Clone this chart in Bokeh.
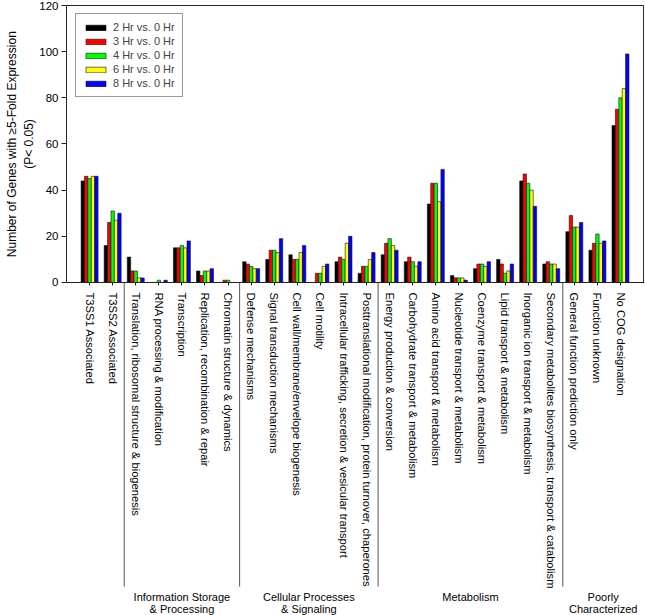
import numpy as np
from bokeh.plotting import figure
from bokeh.models import Range1d, FixedTicker, Legend, LegendItem, Title
from bokeh.embed import file_html
from bokeh.resources import INLINE
from bokeh.core.properties import value

categories = [
    "T3SS1 Associated",
    "T3SS2 Associated",
    "Translation, ribosomal structure & biogenesis",
    "RNA processing & modification",
    "Transcription",
    "Replication, recombination & repair",
    "Chromatin structure & dynamics",
    "Defense mechanisms",
    "Signal transduction mechanisms",
    "Cell wall/membrane/envelope biogenesis",
    "Cell motility",
    "Intracellular trafficking, secretion & vesicular transport",
    "Posttranslational modification, protein turnover, chaperones",
    "Energy production & conversion",
    "Carbohydrate transport & metabolism",
    "Amino acid transport & metabolism",
    "Nucleotide transport & metabolism",
    "Coenzyme transport & metabolism",
    "Lipid transport & metabolism",
    "Inorganic ion transport & metabolism",
    "Secondary metabolites biosynthesis, transport & catabolism",
    "General function prediction only",
    "Function unknown",
    "No COG designation",
]

series_labels = ["2 Hr vs. 0 Hr", "3 Hr vs. 0 Hr", "4 Hr vs. 0 Hr", "6 Hr vs. 0 Hr", "8 Hr vs. 0 Hr"]
hr2 = [44, 16, 11, 0, 15, 5, 0, 9, 10, 12, 0, 9, 4, 12, 9, 34, 3, 6, 10, 44, 8, 22, 14, 68]
hr3 = [46, 26, 5, 0, 15, 3, 1, 8, 14, 10, 4, 11, 7, 17, 11, 43, 2, 8, 8, 47, 9, 29, 17, 75]
hr4 = [45, 31, 5, 1, 16, 5, 1, 7, 14, 10, 4, 10, 7, 19, 9, 43, 2, 8, 4, 43, 8, 24, 21, 80]
hr6 = [46, 27, 2, 0, 15, 5, 0, 6, 13, 13, 7, 17, 10, 16, 7, 35, 2, 7, 5, 40, 8, 24, 17, 84]
hr8 = [46, 30, 2, 1, 18, 6, 0, 6, 19, 16, 8, 20, 13, 14, 9, 49, 1, 9, 8, 33, 6, 26, 18, 99]

group_names = ["", "Information Storage\n& Processing", "Cellular Processes\n& Signaling",
               "Metabolism", "Poorly\nCharacterized"]
group_sizes = [2, 5, 6, 8, 3]
y_ticks = [0, 20, 40, 60, 80, 100, 120]
y_title_1 = "Number of Genes with \u22655-Fold Expression"
y_title_2 = "(P< 0.05)"

colors = ["#000000", "#FF0000", "#00FF00", "#FFFF00", "#0000FF"]
FONT = "Liberation Sans"

# approximate Arial / Liberation Sans advance widths (em) to centre rotated titles
_W = {" ": .278, "(": .333, ")": .333, "<": .584, ".": .278, "-": .333, "\u2265": .584,
      "N": .722, "G": .778, "F": .611, "E": .667, "P": .667,
      "a": .556, "b": .556, "d": .556, "e": .556, "f": .278, "h": .556, "i": .222,
      "l": .222, "m": .833, "n": .556, "o": .556, "p": .556, "r": .333, "s": .5,
      "t": .278, "u": .556, "w": .722, "x": .5}


def text_len(s, size):
    return sum(_W.get(c, .556) for c in s) * size


n = len(categories)
xs = np.arange(1, n + 1)
x_end = n + 1

W, H = 645, 615
p = figure(width=W, height=H,
           x_range=Range1d(0, x_end + 0.04), y_range=Range1d(-144.26, 120.43),
           output_backend="svg", toolbar_location=None,
           min_border_left=66, min_border_right=1, min_border_top=4, min_border_bottom=0)
p.outline_line_color = None
p.xgrid.visible = False
p.ygrid.visible = False
p.background_fill_color = "white"
p.border_fill_color = "white"

bw = 0.147
series = [hr2, hr3, hr4, hr6, hr8]
items = []
for k, (vals, col, lab) in enumerate(zip(series, colors, series_labels)):
    r = p.vbar(x=xs + (k - 2) * bw, top=vals, bottom=0, width=bw,
               fill_color=col, line_color="#111111", line_width=0.6)
    items.append(LegendItem(label=lab, renderers=[r]))

# frame top and right lines (data area 0..120)
p.segment(x0=[0, x_end], y0=[y_ticks[-1], 0], x1=[x_end, x_end], y1=[y_ticks[-1], y_ticks[-1]],
          line_color="#222222", line_width=1)

# group separators and labels
bounds = np.cumsum(group_sizes) + 0.5
seps = bounds[:-1]
sep_bottom = -131.7
p.segment(x0=seps, y0=[0] * len(seps), x1=seps, y1=[sep_bottom] * len(seps),
          line_color="#555555", line_width=1)

starts = np.concatenate([[0.5], bounds[:-1]])
ends = np.concatenate([bounds[:-1], [x_end]])
lx, ly, lt = [], [], []
for name, s, e in zip(group_names, starts, ends):
    if not name:
        continue
    for j, line in enumerate(name.split("\n")):
        lx.append((s + e) / 2)
        ly.append(-136.4 - j * 4.9)
        lt.append(line)
p.text(x=lx, y=ly, text=lt, text_align="center", text_baseline="middle",
       text_font=value(FONT), text_font_size="11px", text_color="black")

# x axis at y=0
xa = p.xaxis[0]
xa.fixed_location = 0
xa.ticker = FixedTicker(ticks=[int(v) for v in xs])
xa.major_label_overrides = {int(v): c for v, c in zip(xs, categories)}
xa.major_label_orientation = "vertical"
xa.major_label_text_font = FONT
xa.major_label_text_font_size = "11.2px"
xa.major_label_text_color = "black"
xa.major_tick_out = 3
xa.major_tick_in = 0
xa.minor_tick_out = 0
xa.minor_tick_in = 0
xa.major_label_standoff = 7
xa.axis_line_color = "#222222"
xa.major_tick_line_color = "#222222"

ya = p.yaxis[0]
ya.bounds = (0, y_ticks[-1])
ya.ticker = FixedTicker(ticks=y_ticks)
ya.major_label_text_font = FONT
ya.major_label_text_font_size = "11.5px"
ya.major_label_text_color = "black"
ya.major_label_standoff = 3
ya.major_tick_out = 5
ya.major_tick_in = 0
ya.minor_tick_out = 0
ya.minor_tick_in = 0
ya.axis_line_color = "#222222"
ya.major_tick_line_color = "#222222"

# y-axis title: two lines as left-side titles, centred on the 0..120 range
px_per_unit = (282 - 5) / 120.0
y_mid = (y_ticks[0] + y_ticks[-1]) / 2
mid_canvas = 282 - y_mid * px_per_unit
for txt, stand in [(y_title_2, 2), (y_title_1, 0)]:
    bottom_canvas = mid_canvas + text_len(txt, 12) / 2
    p.add_layout(Title(text=txt, align="left", offset=H - bottom_canvas, standoff=stand,
                       text_font=FONT, text_font_size="12px", text_font_style="normal",
                       text_color="black"), "left")

legend = Legend(items=items, location="top_left", margin=9, padding=7, spacing=2,
                glyph_width=25, glyph_height=7, label_standoff=5, label_height=12,
                label_text_font=FONT, label_text_font_size="11px",
                border_line_color="#333333", border_line_width=1,
                background_fill_color="white", background_fill_alpha=1.0)
p.add_layout(legend)

open("out.html", "w").write(file_html(p, INLINE))
